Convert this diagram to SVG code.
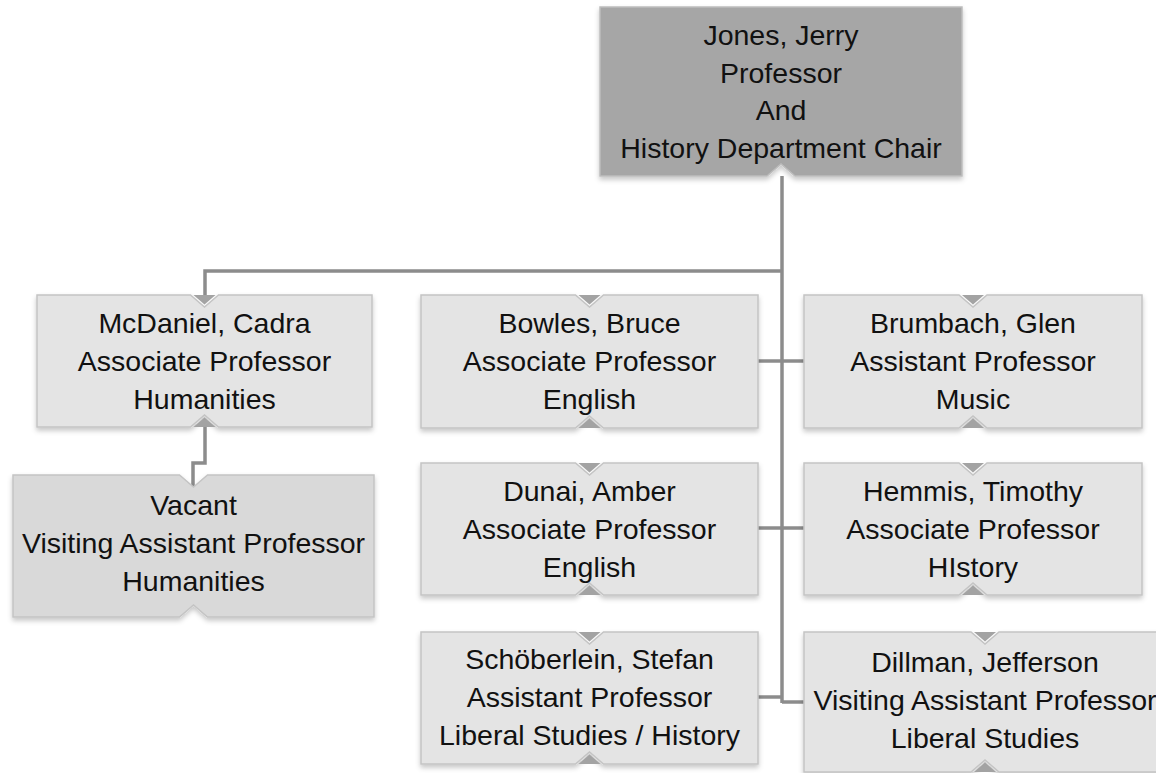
<svg xmlns="http://www.w3.org/2000/svg" width="1156" height="773" viewBox="0 0 1156 773">
<defs>
<filter id="sh" x="-5%" y="-5%" width="110%" height="120%">
<feDropShadow dx="0" dy="3" stdDeviation="2.5" flood-color="#000" flood-opacity="0.22"/>
</filter>
<style>
.box{fill:#e4e4e4;stroke:#c4c4c4;stroke-width:1.5;filter:url(#sh)}
.vac{fill:#d9d9d9;stroke:#c4c4c4;stroke-width:1.5;filter:url(#sh)}
.top{fill:#a6a6a6;stroke:#bdbdbd;stroke-width:1.5;filter:url(#sh)}
.notch{fill:#a3a3a3}
.conn{fill:none;stroke:#8c8c8c;stroke-width:3.5}
text{font-family:"Liberation Sans",Arial,sans-serif;font-size:28.5px;fill:#111;text-anchor:middle}
</style>
</defs>
<rect width="1156" height="773" fill="#fff"/>
<g id="connectors">
<path class="conn" d="M782 176 V703"/>
<path class="conn" d="M782 271 H205 V296"/>
<path class="conn" d="M758 361 H804"/>
<path class="conn" d="M758 528 H804"/>
<path class="conn" d="M758 697 H782"/>
<path class="conn" d="M782 702 H804"/>
<path class="conn" d="M205 420 V463 H193 V487"/>
</g>
<g id="jones">
<path class="top" d="M600 7 H962 V176 H795 L781 164 L767 176 H600 Z"/>
<text x="781" y="45">Jones, Jerry</text>
<text x="781" y="82.5">Professor</text>
<text x="781" y="120">And</text>
<text x="781" y="157.5">History Department Chair</text>
</g>
<g id="mcdaniel">
<path class="box" d="M37 295 H190.5 L204.5 307 L218.5 295 H372 V427 H218.5 L204.5 415 L190.5 427 H37 Z"/>
<path class="notch" d="M193.5 295 H215.5 L204.5 304.5 Z M193.5 427 H215.5 L204.5 417.5 Z"/>
<text x="204.5" y="333">McDaniel, Cadra</text>
<text x="204.5" y="371">Associate Professor</text>
<text x="204.5" y="408.5">Humanities</text>
</g>
<g id="vacant">
<path class="vac" d="M13 475 H179.5 L193.5 487 L207.5 475 H374 V617 H207.5 L193.5 605 L179.5 617 H13 Z"/>
<text x="193.5" y="515">Vacant</text>
<text x="193.5" y="553">Visiting Assistant Professor</text>
<text x="193.5" y="591">Humanities</text>
</g>
<g id="bowles">
<path class="box" d="M421 295 H575.5 L589.5 307 L603.5 295 H758 V428 H603.5 L589.5 416 L575.5 428 H421 Z"/>
<path class="notch" d="M578.5 295 H600.5 L589.5 304.5 Z M578.5 428 H600.5 L589.5 418.5 Z"/>
<text x="589.5" y="333">Bowles, Bruce</text>
<text x="589.5" y="371">Associate Professor</text>
<text x="589.5" y="409">English</text>
</g>
<g id="brumbach">
<path class="box" d="M804 295 H959 L973 307 L987 295 H1142 V428 H987 L973 416 L959 428 H804 Z"/>
<path class="notch" d="M962 295 H984 L973 304.5 Z M962 428 H984 L973 418.5 Z"/>
<text x="973" y="333">Brumbach, Glen</text>
<text x="973" y="371">Assistant Professor</text>
<text x="973" y="409">Music</text>
</g>
<g id="dunai">
<path class="box" d="M421 463 H575.5 L589.5 475 L603.5 463 H758 V595 H603.5 L589.5 583 L575.5 595 H421 Z"/>
<path class="notch" d="M578.5 463 H600.5 L589.5 472.5 Z M578.5 595 H600.5 L589.5 585.5 Z"/>
<text x="589.5" y="501">Dunai, Amber</text>
<text x="589.5" y="539">Associate Professor</text>
<text x="589.5" y="577">English</text>
</g>
<g id="hemmis">
<path class="box" d="M804 463 H959 L973 475 L987 463 H1142 V595 H987 L973 583 L959 595 H804 Z"/>
<path class="notch" d="M962 463 H984 L973 472.5 Z M962 595 H984 L973 585.5 Z"/>
<text x="973" y="501">Hemmis, Timothy</text>
<text x="973" y="539">Associate Professor</text>
<text x="973" y="577">HIstory</text>
</g>
<g id="schoberlein">
<path class="box" d="M421 632 H575.5 L589.5 644 L603.5 632 H758 V764 H603.5 L589.5 752 L575.5 764 H421 Z"/>
<path class="notch" d="M578.5 632 H600.5 L589.5 641.5 Z M578.5 764 H600.5 L589.5 754.5 Z"/>
<text x="589.5" y="669">Schöberlein, Stefan</text>
<text x="589.5" y="707">Assistant Professor</text>
<text x="589.5" y="745">Liberal Studies / History</text>
</g>
<g id="dillman">
<path class="box" d="M804 632 H971 L985 644 L999 632 H1166 V772 H999 L985 760 L971 772 H804 Z"/>
<path class="notch" d="M974 632 H996 L985 641.5 Z M974 772 H996 L985 762.5 Z"/>
<text x="985" y="672">Dillman, Jefferson</text>
<text x="985" y="710">Visiting Assistant Professor</text>
<text x="985" y="748">Liberal Studies</text>
</g>
</svg>
